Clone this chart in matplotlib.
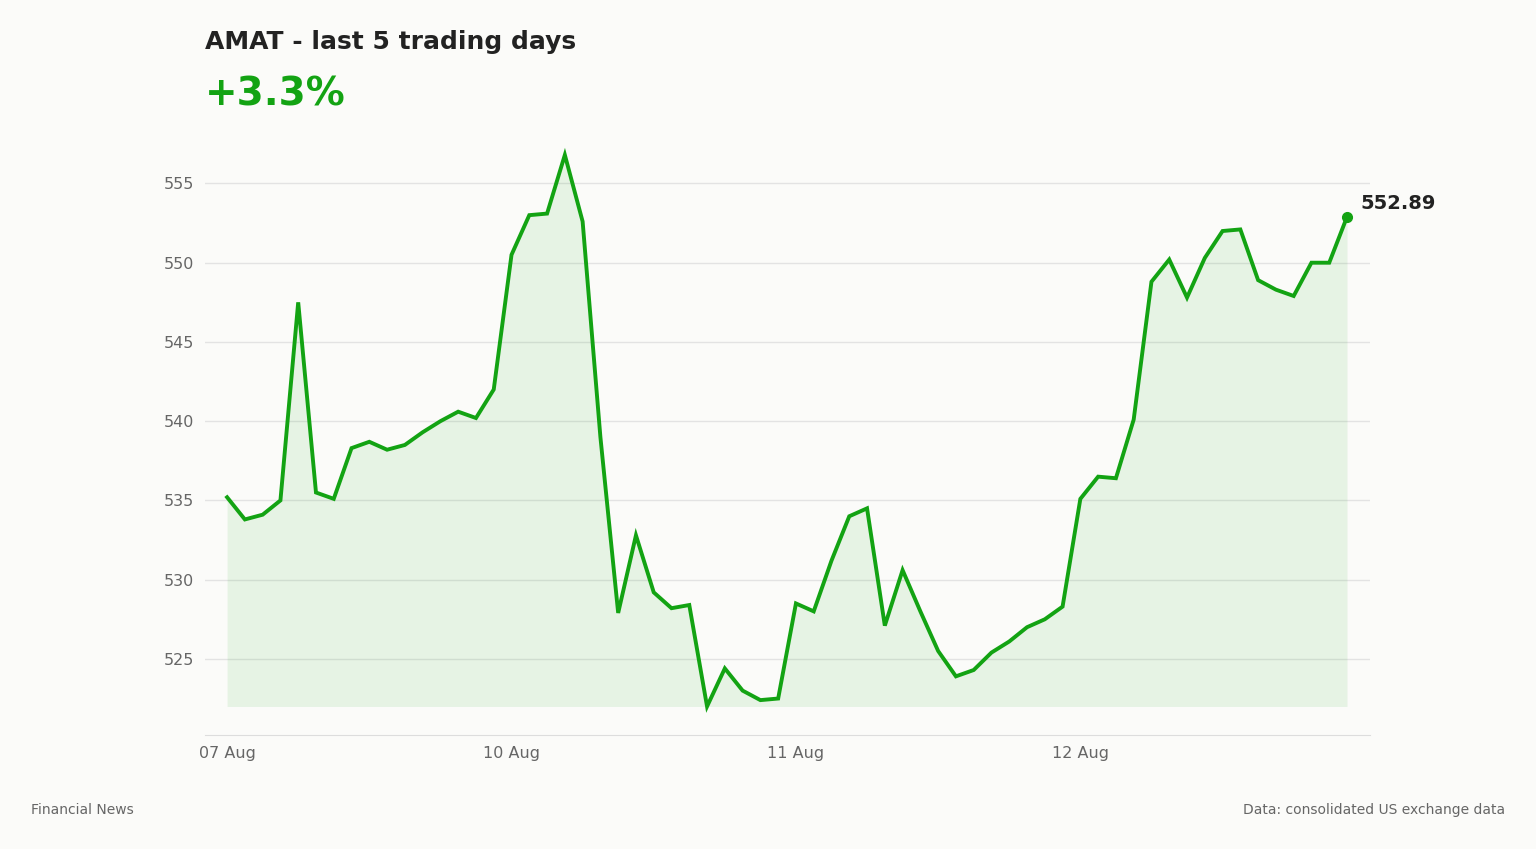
import numpy as np
import matplotlib.pyplot as plt

prices = [535.2, 533.8, 534.1, 535.0, 547.5, 535.5, 535.1, 538.3, 538.7, 538.2,
          538.5, 539.3, 540.0, 540.6, 540.2, 542.0, 550.5, 553.0, 553.1, 556.8,
          552.6, 539.0, 527.9, 532.8, 529.2, 528.2, 528.4, 522.0, 524.4, 523.0,
          522.4, 522.5, 528.5, 528.0, 531.2, 534.0, 534.5, 527.1, 530.6, 528.0,
          525.5, 523.9, 524.3, 525.4, 526.1, 527.0, 527.5, 528.3, 535.1, 536.5,
          536.4, 540.1, 548.8, 550.2, 547.8, 550.3, 552.0, 552.1, 548.9, 548.3,
          547.9, 550.0, 550.0, 552.89]
day_labels = ["07 Aug", "10 Aug", "11 Aug", "12 Aug"]
day_pos = [0, 16, 32, 48]
yticks = [525, 530, 535, 540, 545, 550, 555]

green = "#13a313"
bg = "#fbfbf9"

fig = plt.figure(figsize=(15.36, 8.49), dpi=100, facecolor=bg)
ax = fig.add_axes([0.1335, 0.1343, 0.7585, 0.70])
ax.set_facecolor(bg)
x = np.arange(len(prices))
ax.fill_between(x, prices, min(prices), color=green, alpha=0.09, linewidth=0)
ax.plot(x, prices, color=green, lw=2.8, solid_joinstyle="miter")
ax.plot(x[-1], prices[-1], "o", color=green, ms=7)
ax.annotate(f"{prices[-1]:.2f}", (x[-1], prices[-1]), xytext=(10, 6),
            textcoords="offset points", fontsize=14, fontweight="bold", color="#222222")

ax.set_xlim(-1.24, 64.3)
ax.set_ylim(520.2, 557.7)
ax.set_yticks(yticks)
ax.set_xticks(day_pos)
ax.set_xticklabels(day_labels)
ax.grid(axis="y", color="#e3e3e3", lw=1)
ax.set_axisbelow(True)
for s in ["top", "right", "left"]:
    ax.spines[s].set_visible(False)
ax.spines["bottom"].set_color("#dddddd")
ax.tick_params(length=0, labelsize=11.5, colors="#666666", pad=8)

fig.text(0.1335, 0.95, "AMAT - last 5 trading days", fontsize=18, fontweight="bold",
         color="#222222", va="center")
fig.text(0.1335, 0.889, "+3.3%", fontsize=28, fontweight="bold", color=green, va="center")
fig.text(0.02, 0.046, "Financial News", fontsize=10, color="#666666", va="center")
fig.text(0.98, 0.046, "Data: consolidated US exchange data", fontsize=10,
         color="#666666", va="center", ha="right")

fig.savefig("out.png", dpi=100, facecolor=bg)
